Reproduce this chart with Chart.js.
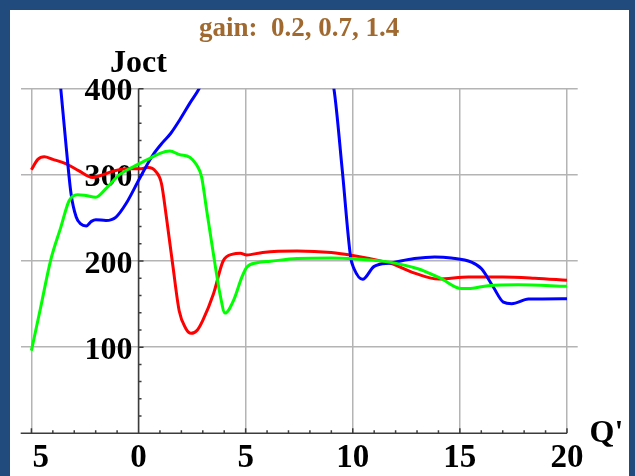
<!DOCTYPE html>
<html>
<head>
<meta charset="utf-8">
<script src="https://cdn.jsdelivr.net/npm/chart.js@4.4.1/dist/chart.umd.min.js"></script>
<style>
html,body{margin:0;padding:0;background:#214a7d;}
#wrap{position:relative;width:635px;height:476px;background:#214a7d;overflow:hidden;}
#panel{position:absolute;left:10px;top:10px;width:619px;height:466px;background:#fff;}
#c{position:absolute;left:0;top:0;}
</style>
</head>
<body>
<div id="wrap"><div id="panel"></div><canvas id="c" width="635" height="476"></canvas></div>
<script>
// values (Q', Joct)
const redX = [-5, -4.7, -4.4, -4.0, -3.4, -2.8, -2.15, -1.8, -1.2, -0.6, 0.05, 0.45, 0.8, 1.07, 1.3, 1.6, 1.9, 2.2, 2.45, 2.75, 3.0, 3.5, 3.95, 4.4, 4.75, 5.05, 5.8, 7.4, 9.0, 10.06, 11.3, 11.8, 13.0, 14.0, 15.4, 17.0, 18.5, 20.0];
const redY = [306, 318, 321, 318, 313, 305, 297, 299, 304, 307, 307, 308.5, 304, 290, 251, 195, 142, 122, 116, 120, 131, 162, 200, 208, 209, 207, 210, 211.6, 209.8, 206, 200, 197, 185, 179, 181.4, 181.4, 180, 177.6];

const greenX = [-5, -4.57, -4.1, -3.63, -3.24, -2.85, -2.46, -2.0, -1.52, -0.9, -0.27, 0.36, 1.0, 1.46, 1.92, 2.39, 2.7, 2.94, 3.18, 3.49, 3.8, 4.04, 4.43, 4.82, 5.06, 5.53, 6.15, 7.4, 9.0, 10.06, 11.63, 13.04, 14.13, 15.07, 15.38, 16.32, 17.73, 20.0];
const greenY = [96, 146, 201, 239, 270, 277, 276, 274, 284, 300, 309, 317, 325, 327.6, 323.5, 320.5, 312, 298, 259, 209, 162, 139.5, 154, 181, 193, 198, 199.7, 202.8, 203.5, 202.6, 199, 191, 179.5, 168, 168, 171.4, 172.5, 170.6];

const blueX = [-4.2, -3.63, -3.39, -3.15, -2.91, -2.7, -2.44, -2.2, -1.99, -1.52, -1.05, -0.58, 0.05, 0.67, 1.14, 1.5, 1.92, 2.39, 2.86, 3.5, 5.0, 6.5, 8.0, 8.7, 9.12, 9.51, 9.9, 10.06, 10.46, 11.0, 11.78, 12.88, 13.82, 14.6, 15.54, 16.01, 16.56, 17.03, 17.42, 18.2, 20.0];
const blueY = [560, 400, 336, 278, 251, 243, 240.7, 246, 248, 247, 251, 266.7, 295.8, 323, 338, 348, 363.6, 383, 401.6, 440, 500, 520, 480, 435, 400, 305.5, 204.7, 191, 178.7, 193.8, 197.7, 202.8, 204.7, 203.5, 198.8, 191, 169.8, 152.3, 150.5, 155.8, 156.3];

const xTicks = [-5, 0, 5, 10, 15, 20];
const xTickLabels = ['\u22125', '0', '5', '10', '15', '20'];
const yTicks = [100, 200, 300, 400];
const yTickLabels = ['100', '200', '300', '400'];

const toPts = (xs, ys) => xs.map((x, i) => ({ x: x, y: ys[i] }));

const serif = '"Liberation Serif", "Times New Roman", serif';

const axesPlugin = {
  id: 'axes',
  beforeDatasetsDraw(chart) {
    const ctx = chart.ctx, x = chart.scales.x, y = chart.scales.y, a = chart.chartArea;
    const x0 = x.getPixelForValue(0), y0 = y.getPixelForValue(0);
    ctx.save();
    ctx.strokeStyle = '#3c3c3c';
    ctx.lineWidth = 1.5;
    ctx.beginPath();
    ctx.moveTo(a.left, y0); ctx.lineTo(x.getPixelForValue(xTicks[xTicks.length - 1]), y0);
    ctx.moveTo(x0, y0); ctx.lineTo(x0, y.getPixelForValue(yTicks[yTicks.length - 1]));
    for (let v = -5; v <= 20; v++) {
      const px = x.getPixelForValue(v);
      const len = v % 5 === 0 ? 5 : 3;
      ctx.moveTo(px, y0); ctx.lineTo(px, y0 - len);
    }
    for (let v = 20; v <= 400; v += 20) {
      const py = y.getPixelForValue(v);
      const len = v % 100 === 0 ? 5 : 3;
      ctx.moveTo(x0, py); ctx.lineTo(x0 + len, py);
    }
    ctx.stroke();

    ctx.fillStyle = '#000';
    ctx.textBaseline = 'alphabetic';
    ctx.font = 'bold 32px ' + serif;
    ctx.textAlign = 'right';
    yTicks.forEach((v, i) => ctx.fillText(yTickLabels[i], x0 - 6, y.getPixelForValue(v) + 11.5));

    ctx.font = 'bold 33px ' + serif;
    xTicks.forEach((v, i) => {
      const lab = xTickLabels[i];
      const px = x.getPixelForValue(v);
      const w = ctx.measureText(lab).width;
      if (lab.charAt(0) === '\u2212') {
        // minus sign is not rendered in the reference
        ctx.textAlign = 'right';
        ctx.fillText(lab.slice(1), px + w / 2, y0 + 34);
      } else {
        ctx.textAlign = 'center';
        ctx.fillText(lab, px, y0 + 34);
      }
    });

    ctx.font = 'bold 32px ' + serif;
    ctx.textAlign = 'center';
    ctx.fillText('Joct', x0, 72);
    ctx.textAlign = 'left';
    ctx.fillText("Q'", x.getPixelForValue(20) + 22.5, y0 + 9);

    ctx.font = 'bold 27px ' + serif;
    ctx.fillStyle = '#a0692f';
    ctx.textAlign = 'center';
    ctx.fillText('gain:  0.2, 0.7, 1.4', (a.left + a.right) / 2, 36);
    ctx.restore();
  }
};

new Chart(document.getElementById('c'), {
  type: 'line',
  data: {
    datasets: [
      { data: toPts(greenX, greenY), borderColor: '#00ff00' },
      { data: toPts(blueX, blueY), borderColor: '#0000ff' },
      { data: toPts(redX, redY), borderColor: '#ff0000' }
    ]
  },
  options: {
    responsive: false,
    animation: false,
    devicePixelRatio: 1,
    layout: { padding: { left: 20.7, right: 57.3, top: 88.7, bottom: 42.7 } },
    plugins: { legend: { display: false }, tooltip: { enabled: false } },
    elements: {
      point: { radius: 0 },
      line: { borderWidth: 3, fill: false, cubicInterpolationMode: 'monotone' }
    },
    scales: {
      x: {
        type: 'linear', min: -5.5, max: 20.5,
        afterBuildTicks: s => { s.ticks = xTicks.map(v => ({ value: v })); },
        grid: { color: '#b4b4b4', lineWidth: 1.5, drawTicks: false },
        border: { display: false },
        ticks: { display: false }
      },
      y: {
        type: 'linear', min: 0, max: 400,
        afterBuildTicks: s => { s.ticks = yTicks.map(v => ({ value: v })); },
        grid: { color: '#b4b4b4', lineWidth: 1.5, drawTicks: false },
        border: { display: false },
        ticks: { display: false }
      }
    }
  },
  plugins: [axesPlugin]
});
</script>
</body>
</html>
